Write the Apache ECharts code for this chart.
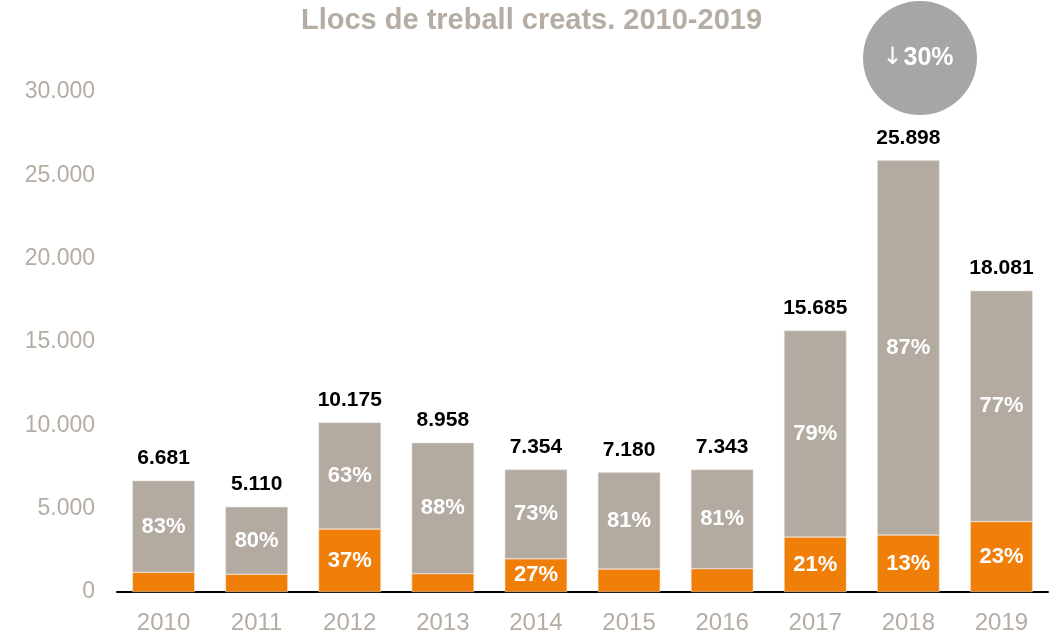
<!DOCTYPE html>
<html><head><meta charset="utf-8">
<script src="https://cdn.jsdelivr.net/npm/echarts@6/dist/echarts.min.js"></script>
<style>html,body{margin:0;padding:0;background:#fff}#c{width:1063px;height:635px}</style>
</head><body><div id="c"></div>
<script>
const years = ['2010','2011','2012','2013','2014','2015','2016','2017','2018','2019'];
const totals = [6681, 5110, 10175, 8958, 7354, 7180, 7343, 15685, 25898, 18081];
const orangeVals = [1180, 1070, 3780, 1100, 1990, 1380, 1400, 3300, 3420, 4230];
const grayVals = [5501, 4040, 6395, 7858, 5364, 5800, 5943, 12385, 22478, 13851];
const grayPct = ['83%','80%','63%','88%','73%','81%','81%','79%','87%','77%'];
const orangePct = ['','','37%','','27%','','','21%','13%','23%'];
const yTicks = [0, 5000, 10000, 15000, 20000, 25000, 30000];
const titleText = 'Llocs de treball creats. 2010-2019';
const badgeArrow = '↓';
const badgeValue = '30%';

const fmt = v => String(v).replace(/\B(?=(\d{3})+(?!\d))/g, '.');
const FONT = '"Liberation Sans", Arial, sans-serif';
const chart = echarts.init(document.getElementById('c'));
chart.setOption({
  animation: false,
  title: { text: titleText, left: 'center', top: 1,
    textStyle: { fontFamily: FONT, fontSize: 29, fontWeight: 'bold', color: '#b5ada4' } },
  grid: { left: 117, right: 15, top: 92, bottom: 43 },
  xAxis: { type: 'category', data: years,
    axisLine: { lineStyle: { color: '#000', width: 2 } },
    axisTick: { show: false },
    axisLabel: { fontFamily: FONT, fontSize: 24, color: '#b5ada4', margin: 19 } },
  yAxis: { type: 'value', min: yTicks[0], max: yTicks[yTicks.length-1], interval: 5000,
    splitLine: { show: false }, axisLine: { show: false }, axisTick: { show: false },
    axisLabel: { fontFamily: FONT, fontSize: 23, color: '#b5ada4', margin: 22, formatter: v => fmt(v) } },
  series: [
    { type: 'bar', stack: 's', data: orangeVals, barCategoryGap: '33%',
      itemStyle: { color: '#f07f09', borderColor: '#f3e9e0', borderWidth: 0.5 },
      label: { show: true, position: 'inside', fontFamily: FONT, fontSize: 22, fontWeight: 'bold', color: '#fff',
        formatter: p => orangePct[p.dataIndex] } },
    { type: 'bar', stack: 's', data: grayVals,
      itemStyle: { color: '#b3aaa1', borderColor: '#e6e1dc', borderWidth: 0.5 },
      label: { show: true, position: 'inside', fontFamily: FONT, fontSize: 22, fontWeight: 'bold', color: '#fff',
        formatter: p => grayPct[p.dataIndex] } },
    { type: 'bar', stack: 's', data: totals.map(() => 0), silent: true,
      itemStyle: { color: 'transparent' },
      label: { show: true, position: 'top', distance: 12, fontFamily: FONT, fontSize: 21, fontWeight: 'bold', color: '#000',
        formatter: p => fmt(totals[p.dataIndex]) } }
  ],
  graphic: [
    { type: 'circle', shape: { cx: 920, cy: 58, r: 57 }, style: { fill: '#a6a6a6' } },
    { type: 'text', x: 918, y: 58, style: {
      text: '{a|' + badgeArrow + '}{b|' + badgeValue + '}',
      align: 'center', verticalAlign: 'middle',
      rich: {
        a: { fill: '#fff', fontFamily: '"DejaVu Sans", sans-serif', fontSize: 24, fontWeight: 'normal', padding: [0, 1, 0, 0] },
        b: { fill: '#fff', fontFamily: FONT, fontSize: 25, fontWeight: 'bold' }
      } } }
  ]
});
</script></body></html>
